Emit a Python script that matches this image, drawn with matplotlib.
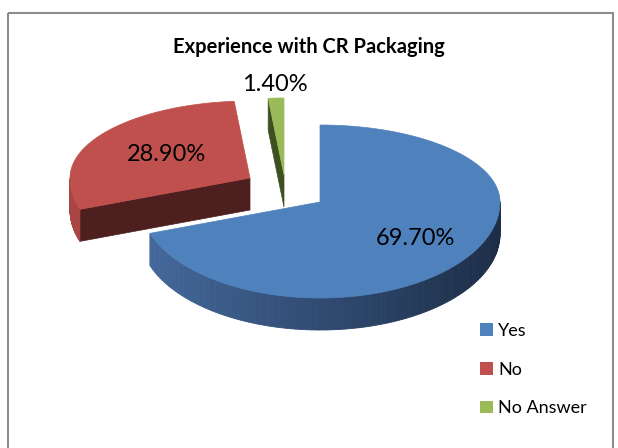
import numpy as np
import matplotlib
matplotlib.use('Agg')
import matplotlib.pyplot as plt
from matplotlib.patches import Polygon, Rectangle, Patch
from matplotlib.colors import to_rgb

# データ
labels = ['Yes', 'No', 'No Answer']
values = [69.7, 28.9, 1.4]
title = 'Experience with CR Packaging'

# 色
top_colors = ['#4f81bd', '#c0504d', '#9bbb59']
wall_light = ['#44699c', '#a94543', '#7d9a45']
wall_dark = ['#1c2d46', '#5a2322', '#3c4d1f']
cut_colors = ['#243a5a', '#4e1f1f', '#3e4f21']

# レイアウト（ピクセル座標）
cx, cy = 320, 202
a, b_back, b_front = 180, 77, 96
depth = 32
explode = [(0, 0), (-70, -24), (-36, -27)]
label_r = [0.65, 0.55, 1.17]

plt.rcParams['font.family'] = ['Lato', 'DejaVu Sans']

fig = plt.figure(figsize=(6.18, 4.48), dpi=100)
ax = fig.add_axes([0, 0, 1, 1])
ax.set_xlim(0, 618)
ax.set_ylim(448, 0)
ax.axis('off')


def pt(th, x0, y0, z=0):
    s = np.sin(th)
    bb = b_back if s > 0 else b_front
    return x0 + a * np.cos(th), y0 - bb * s + z


def mix(c1, c2, t):
    c1, c2 = np.array(to_rgb(c1)), np.array(to_rgb(c2))
    return tuple(c1 + (c2 - c1) * t)


# 角度（90度から時計回りに積む）
total = sum(values)
bounds = []
start = 90.0
for v in values:
    end = start - v / total * 360
    bounds.append((np.radians(end), np.radians(start)))
    start = end

# 奥から手前へ描く
for i in [2, 1, 0]:
    ts, te = bounds[i]
    x0, y0 = cx + explode[i][0], cy + explode[i][1]
    arc = np.linspace(ts, te, 200)

    # 切り口の面
    for th, nrm in [(ts, ts - np.pi / 2), (te, te + np.pi / 2)]:
        if np.sin(nrm) < -0.01:
            px, py = pt(th, x0, y0)
            poly = [(x0, y0), (px, py), (px, py + depth), (x0, y0 + depth)]
            ax.add_patch(Polygon(poly, closed=True, fc=cut_colors[i], ec=cut_colors[i], lw=0.5))

    # 外側の壁（グラデーション）
    for k in range(len(arc) - 1):
        tm = 0.5 * (arc[k] + arc[k + 1])
        if np.sin(tm) < 0:
            p1 = pt(arc[k], x0, y0)
            p2 = pt(arc[k + 1], x0, y0)
            t = np.clip((p1[0] - (cx - a)) / (2 * a), 0, 1)
            c = mix(wall_light[i], wall_dark[i], t)
            poly = [p1, p2, (p2[0], p2[1] + depth), (p1[0], p1[1] + depth)]
            ax.add_patch(Polygon(poly, closed=True, fc=c, ec=c, lw=0.6))

    # 上面
    top = [(x0, y0)] + [pt(th, x0, y0) for th in arc]
    ax.add_patch(Polygon(top, closed=True, fc=top_colors[i], ec=top_colors[i], lw=0.5))

    # ラベル
    tm = 0.5 * (ts + te)
    lx = x0 + a * label_r[i] * np.cos(tm)
    bb = b_back if np.sin(tm) > 0 else b_front
    ly = y0 - bb * label_r[i] * np.sin(tm)
    ax.text(lx, ly, f'{values[i]:.2f}%', ha='center', va='center', fontsize=17, color='black')

ax.text(309, 47, title, ha='center', va='center', fontsize=14.5, fontweight='bold')

# 枠
ax.add_patch(Rectangle((8, 13), 605, 445, fill=False, ec='#8c8c8c', lw=1.5))

handles = [Patch(fc=c, ec='none') for c in top_colors]
ax.legend(handles, labels, loc='upper left', bbox_to_anchor=(480 / 618, 1 - 323 / 448),
          frameon=False, fontsize=13, handlelength=0.7, handleheight=0.7,
          handletextpad=0.3, labelspacing=1.25, borderpad=0, borderaxespad=0)

fig.savefig('out.png', dpi=100)
